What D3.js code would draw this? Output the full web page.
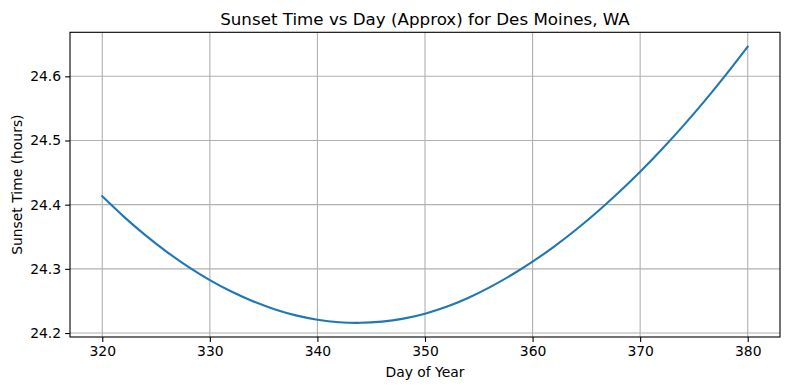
<!DOCTYPE html>
<html>
  <head>
    <meta http-equiv="content-type" content="text/html; charset=utf-8" />
    <title>Sunset Time vs Day</title>
    <script src="https://cdn.jsdelivr.net/npm/d3@7"></script>
    <style>
      body { margin: 0; background: #fff; }
      svg text { font-family: "DejaVu Sans", sans-serif; fill: #000; }
    </style>
  </head>
  <body>
    <script>
// values
var days = [320, 322, 324, 326, 328, 330, 332, 334, 336, 338, 340, 342, 344, 346, 348, 350,
            352, 354, 356, 358, 360, 362, 364, 366, 368, 370, 372, 374, 376, 378, 380];
var sunset = [24.4130, 24.3814, 24.3526, 24.3265, 24.3031, 24.2825, 24.2646, 24.2495, 24.2371, 24.2275,
              24.2208, 24.2169, 24.2159, 24.2177, 24.2224, 24.2301, 24.2408, 24.2545, 24.2711, 24.2900,
              24.3112, 24.3347, 24.3605, 24.3886, 24.4189, 24.4513, 24.4860, 24.5228, 24.5618, 24.6030,
              24.6463];
var xTicks = [320, 330, 340, 350, 360, 370, 380];
var yTicks = [24.2, 24.3, 24.4, 24.5, 24.6];

// note: "top" is taken by window.top, so plot edges get their own names
var w = 790, h = 390,
    plotL = 70, plotR = 780, plotT = 32.3, plotB = 337;

var svg = d3.select("body").append("svg")
  .attr("width", w)
  .attr("height", h);

var x = d3.scaleLinear().domain([317, 383]).range([plotL, plotR]);
var y = d3.scaleLinear().domain([24.1938, 24.6686]).range([plotB, plotT]);

// grid
svg.append("g").selectAll("line").data(xTicks).enter().append("line")
  .attr("x1", function(d) { return x(d); })
  .attr("x2", function(d) { return x(d); })
  .attr("y1", plotT).attr("y2", plotB)
  .attr("stroke", "#b0b0b0").attr("stroke-width", 1.1);
svg.append("g").selectAll("line").data(yTicks).enter().append("line")
  .attr("y1", function(d) { return y(d); })
  .attr("y2", function(d) { return y(d); })
  .attr("x1", plotL).attr("x2", plotR)
  .attr("stroke", "#b0b0b0").attr("stroke-width", 1.1);

// curve
var pts = days.map(function(d, i) { return [d, sunset[i]]; });
var line = d3.line()
  .x(function(d) { return x(d[0]); })
  .y(function(d) { return y(d[1]); })
  .curve(d3.curveNatural);
svg.append("path").datum(pts)
  .attr("d", line)
  .attr("fill", "none")
  .attr("stroke", "#1f77b4")
  .attr("stroke-width", 2.1)
  .attr("stroke-linecap", "square");

// axes
var xAxis = d3.axisBottom(x).tickValues(xTicks).tickSize(4.9).tickPadding(4).tickFormat(d3.format("d"));
var yAxis = d3.axisLeft(y).tickValues(yTicks).tickSize(4.9).tickPadding(4).tickFormat(d3.format(".1f"));

var gx = svg.append("g").attr("transform", "translate(0," + plotB + ")").call(xAxis);
var gy = svg.append("g").attr("transform", "translate(" + plotL + ",0)").call(yAxis);
[gx, gy].forEach(function(g) {
  g.select(".domain").remove();
  g.selectAll(".tick line").attr("stroke", "#000").attr("stroke-width", 1.1);
  g.selectAll(".tick text").attr("font-size", 13.9).attr("font-family", "DejaVu Sans");
});

// frame
svg.append("rect")
  .attr("x", plotL).attr("y", plotT)
  .attr("width", plotR - plotL).attr("height", plotB - plotT)
  .attr("fill", "none").attr("stroke", "#000").attr("stroke-width", 1.1);

// labels
svg.append("text")
  .attr("x", (plotL + plotR) / 2).attr("y", 24.5)
  .attr("text-anchor", "middle").attr("font-size", 16.7)
  .text("Sunset Time vs Day (Approx) for Des Moines, WA");
svg.append("text")
  .attr("x", (plotL + plotR) / 2).attr("y", 376.5)
  .attr("text-anchor", "middle").attr("font-size", 13.9)
  .text("Day of Year");
svg.append("text")
  .attr("transform", "translate(22," + (plotT + plotB) / 2 + ") rotate(-90)")
  .attr("text-anchor", "middle").attr("font-size", 13.9)
  .text("Sunset Time (hours)");
    </script>
  </body>
</html>
